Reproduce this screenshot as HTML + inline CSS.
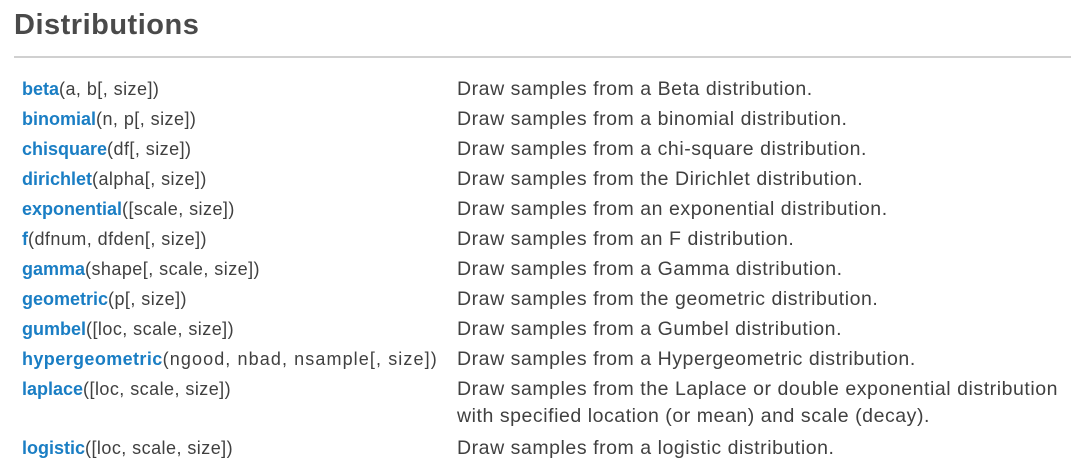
<!DOCTYPE html>
<html><head><meta charset="utf-8"><style>
body{margin:0;width:1071px;height:464px;background:#fff;position:relative;overflow:hidden;font-family:"Liberation Sans","DejaVu Sans",sans-serif;color:#404040}
h1{position:absolute;left:14px;top:9px;margin:0;font-size:29px;font-weight:bold;color:#4a4a4a;letter-spacing:0.5px}
.hr{position:absolute;left:14px;top:56px;width:1057px;height:2px;background:#d0d0d0}
.r{position:absolute;font-size:18px;letter-spacing:0.45px;line-height:27px;white-space:nowrap}
.a{left:22px}.d{left:457px;font-size:19.5px;letter-spacing:0.55px}
b{color:#1a7ec4;font-weight:bold;letter-spacing:0}
</style></head><body>
<h1>Distributions</h1><div class="hr"></div>
<div class="r a" style="top:76px"><b>beta</b>(a, b[, size])</div><div class="r d" style="top:76px">Draw samples from a Beta distribution.</div>
<div class="r a" style="top:106px"><b>binomial</b>(n, p[, size])</div><div class="r d" style="top:106px">Draw samples from a binomial distribution.</div>
<div class="r a" style="top:136px"><b>chisquare</b>(df[, size])</div><div class="r d" style="top:136px">Draw samples from a chi-square distribution.</div>
<div class="r a" style="top:166px"><b>dirichlet</b>(alpha[, size])</div><div class="r d" style="top:166px">Draw samples from the Dirichlet distribution.</div>
<div class="r a" style="top:196px"><b>exponential</b>([scale, size])</div><div class="r d" style="top:196px">Draw samples from an exponential distribution.</div>
<div class="r a" style="top:226px"><b>f</b>(dfnum, dfden[, size])</div><div class="r d" style="top:226px">Draw samples from an F distribution.</div>
<div class="r a" style="top:256px"><b>gamma</b>(shape[, scale, size])</div><div class="r d" style="top:256px">Draw samples from a Gamma distribution.</div>
<div class="r a" style="top:286px"><b>geometric</b>(p[, size])</div><div class="r d" style="top:286px">Draw samples from the geometric distribution.</div>
<div class="r a" style="top:316px"><b>gumbel</b>([loc, scale, size])</div><div class="r d" style="top:316px">Draw samples from a Gumbel distribution.</div>
<div class="r a" style="top:346px;letter-spacing:1.1px"><b style="letter-spacing:0.4px">hypergeometric</b>(ngood, nbad, nsample[, size])</div><div class="r d" style="top:346px">Draw samples from a Hypergeometric distribution.</div>
<div class="r a" style="top:376px"><b>laplace</b>([loc, scale, size])</div><div class="r d" style="top:376px">Draw samples from the Laplace or double exponential distribution<br>with specified location (or mean) and scale (decay).</div>
<div class="r a" style="top:435px"><b>logistic</b>([loc, scale, size])</div><div class="r d" style="top:435px">Draw samples from a logistic distribution.</div>
</body></html>
